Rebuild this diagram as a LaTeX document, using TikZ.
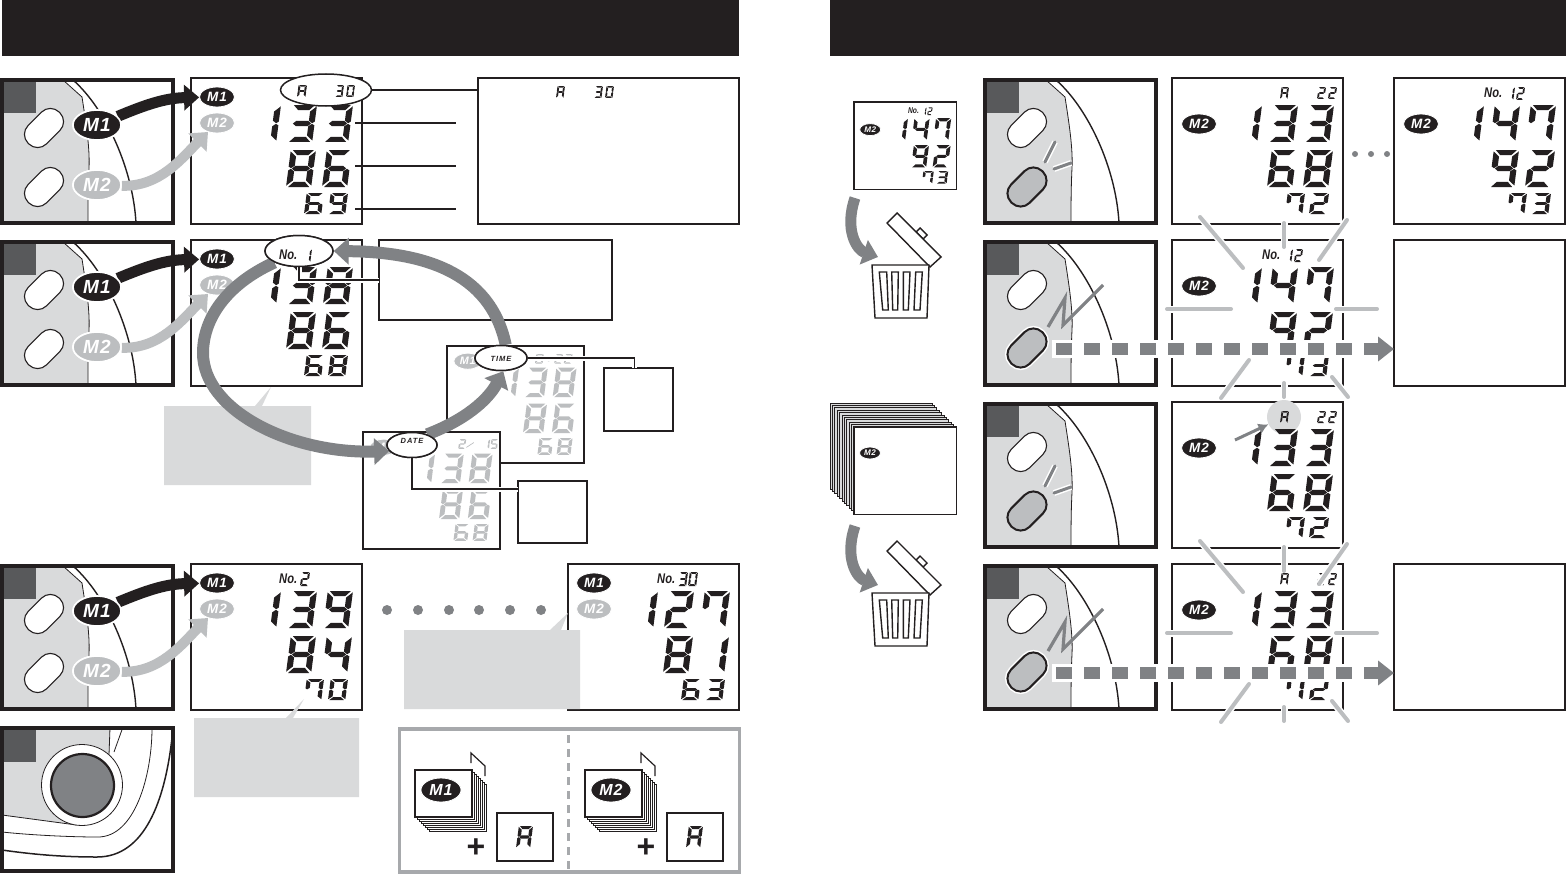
\documentclass[tikz,border=0pt]{standalone}
\usepackage{fontspec}
\usetikzlibrary{arrows.meta,shapes.geometric}
\newfontfamily\labelfont{Liberation Sans}
\newfontfamily\badgefont[LetterSpace=6]{Liberation Sans}
\newfontfamily\spacedfont[LetterSpace=12]{Liberation Sans}
\definecolor{inkblack}{HTML}{231F20}
\definecolor{squaregray}{HTML}{58595B}
\definecolor{arrowgray}{HTML}{808285}
\definecolor{fadedgray}{HTML}{BCBEC0}
\definecolor{bodygray}{HTML}{D9DADB}
\definecolor{framegray}{HTML}{A7A9AC}
\tikzset{
  lcdframe/.style={draw=inkblack,fill=white,line width=1.5,minimum width=171,minimum height=146,anchor=north west,inner sep=0,outer sep=0},
  lcdarea/.style n args={3}{shift={(#1,#2)},scale=#3,transform shape},
  notebox/.style={draw=inkblack,fill=white,line width=1.5,anchor=north west,inner sep=0,outer sep=0},
  panelframe/.style={draw=inkblack,line width=4,minimum width=171,minimum height=143,anchor=north west,inner sep=0,outer sep=0},
  badgedark/.style={ellipse,fill=inkblack,draw=white,line width=.8,minimum width=35,minimum height=20,inner sep=0,text=white,font=\badgefont\bfseries\itshape\fontsize{13.5}{13.5}\selectfont},
  badgegray/.style={badgedark,fill=fadedgray},
  handdark/.style={badgedark,line width=1.6,minimum width=48,minimum height=30,font=\badgefont\bfseries\itshape\fontsize{19}{19}\selectfont},
  handgray/.style={handdark,fill=fadedgray},
  carddark/.style={badgedark,minimum width=40,minimum height=24,font=\badgefont\bfseries\itshape\fontsize{16}{16}\selectfont},
  btnshape/.style={rectangle,rounded corners=12.5,minimum width=44,minimum height=26,rotate=45,draw=inkblack,inner sep=0},
  btnidle/.style={btnshape,fill=white,line width=1.1},
  btnpress/.style={btnshape,fill=fadedgray,line width=2},
  btnhold/.style={btnpress,preaction={draw=white,line width=5}},
  oval/.style={ellipse,draw=inkblack,fill=white,line width=1.5,inner sep=0},
  nolabel/.style={inner sep=0,anchor=west,xscale=.8,text=inkblack,font=\labelfont\bfseries\itshape\fontsize{14}{14}\selectfont},
  ovaltext/.style={inner sep=0,text=inkblack,font=\spacedfont\bfseries\itshape\fontsize{7.5}{7.5}\selectfont},
  leader/.style={draw=inkblack,line width=1.3},
  haloleader/.style={leader,preaction={draw=white,line width=5}},
  blackarrow/.style={draw=inkblack,line width=11,-{Triangle[length=15,width=25]}},
  palearrow/.style={draw=fadedgray,line width=10,-{Triangle[length=15,width=25]}},
  looparrow/.style={draw=arrowgray,line width=12,-{Triangle[length=15,width=26]}},
  dropdown/.style={draw=arrowgray,line width=11,-{Triangle[length=15,width=25]}},
  rayline/.style={draw=fadedgray,line width=4,line cap=round,preaction={draw=white,line width=7,line cap=butt}},
  pressmark/.style={draw=arrowgray,line width=3,line cap=round,preaction={draw=white,line width=6}},
  calloutfill/.style={fill=bodygray},
  trashline/.style={draw=inkblack,line width=1.4,line join=miter},
}
\expandafter\def\csname dig0\endcsname{a,b,c,d,e,f}
\expandafter\def\csname dig1\endcsname{b,c}
\expandafter\def\csname dig2\endcsname{a,b,g,e,d}
\expandafter\def\csname dig3\endcsname{a,b,g,c,d}
\expandafter\def\csname dig4\endcsname{f,g,b,c}
\expandafter\def\csname dig5\endcsname{a,f,g,c,d}
\expandafter\def\csname dig6\endcsname{a,f,g,e,c,d}
\expandafter\def\csname dig7\endcsname{a,f,b,c}
\expandafter\def\csname dig8\endcsname{a,b,c,d,e,f,g}
\expandafter\def\csname dig9\endcsname{a,b,c,d,f,g}
\expandafter\def\csname digA\endcsname{a,b,c,e,f,g}
\expandafter\def\csname dig/\endcsname{s}
\expandafter\def\csname dig:\endcsname{k}
\expandafter\def\csname dig-\endcsname{}
\expandafter\def\csname lcdsega\endcsname{\fill (8,0)--(92,0)--(72,18)--(28,18)--cycle;}
\expandafter\def\csname lcdsegf\endcsname{\fill (0,5)--(24,23)--(24,55)--(10,64)--(0,58)--cycle;}
\expandafter\def\csname lcdsegb\endcsname{\fill (100,5)--(100,58)--(90,64)--(76,55)--(76,23)--cycle;}
\expandafter\def\csname lcdsegg\endcsname{\fill (14,65)--(26,56)--(74,56)--(86,65)--(74,74)--(26,74)--cycle;}
\expandafter\def\csname lcdsege\endcsname{\fill (0,72)--(10,66)--(24,75)--(24,107)--(0,125)--cycle;}
\expandafter\def\csname lcdsegc\endcsname{\fill (100,72)--(90,66)--(76,75)--(76,107)--(100,125)--cycle;}
\expandafter\def\csname lcdsegd\endcsname{\fill (8,130)--(28,112)--(72,112)--(92,130)--cycle;}
\expandafter\def\csname lcdsegs\endcsname{\fill (0,105)--(100,40)--(100,52)--(0,117)--cycle;}
\expandafter\def\csname lcdsegk\endcsname{\fill (40,30)--(60,30)--(60,50)--(40,50)--cycle;\fill (40,80)--(60,80)--(60,100)--(40,100)--cycle;}
\newcommand{\lcdchar}[5]{%
  \begin{scope}[shift={(#2+.13*#5,#3)},xslant=.13,xscale=(#4-.13*#5)/100,yscale=#5/130]
    \edef\seglist{\csname dig#1\endcsname}
    \foreach \s in \seglist {\csname lcdseg\s\endcsname}
  \end{scope}}
\newcommand{\lcdrow}[6]{%
  \foreach \c [count=\i from 0] in {#6} {\lcdchar{\c}{#1+\i*#3}{#2}{#4}{#5}}}
\newcommand{\lcdbody}[4]{%
  \begin{scope}[color=#1]
    \lcdrow{60}{27}{36}{30}{37}{#2}
    \lcdrow{95}{72}{36}{30}{37}{#3}
    \lcdrow{113}{115}{24}{20}{21}{#4}
  \end{scope}}
\newcommand{\devicepanel}[3]{%
  \begin{scope}[shift={(#2,#3)}]
    \path[fill=bodygray,draw=inkblack,line width=.8] (2,2) -- (63,2) -- (82,19) .. controls (86,45) and (90,70) .. (89,90) .. controls (88,110) and (88,130) .. (88,145) -- (2,145) -- cycle;
    \draw[inkblack,line width=1.4] (73,2) .. controls (105,30) and (133,90) .. (136,145);
    \fill[squaregray] (3,3) rectangle (36,35);
    \node[panelframe] (#1) at (2,2) {};
  \end{scope}}
\newcommand{\sendrow}[2]{%
  \devicepanel{#1dev}{0}{#2}
  \begin{scope}[shift={(0,#2)}]
    \node[btnidle] (#1btna) at (44,50) {};
    \node[btnidle] (#1btnb) at (44,109) {};
    \node[handdark] (#1handa) at (97,47) {M1};
    \node[handgray] (#1handb) at (97,107) {M2};
    \draw[blackarrow] (#1handa) .. controls (145,27) and (165,20) .. (#1M1);
    \draw[palearrow] (#1handb) .. controls (160,109) and (182,80) .. (#1M2);
    \node[handdark] at (97,47) {M1};
    \node[handgray] at (97,107) {M2};
  \end{scope}}
\newcommand{\lcdleft}[8]{%
  \begin{scope}[lcdarea={#2}{#3}{#4}]
    \node[lcdframe] (#1) at (0,0) {};
    \lcdbody{#5}{#6}{#7}{#8}
    \node[badgedark] (#1M1) at (26,19) {M1};
    \node[badgegray] (#1M2) at (26,45) {M2};
  \end{scope}}
\newcommand{\lcdright}[8]{%
  \begin{scope}[lcdarea={#2}{#3}{#4}]
    \node[lcdframe] (#1) at (0,0) {};
    \lcdbody{#5}{#6}{#7}{#8}
    \node[badgedark] (#1M2) at (27,46) {M2};
  \end{scope}}
\newcommand{\shortpress}[2]{%
  \devicepanel{#1dev}{983}{#2}
  \begin{scope}[shift={(983,#2)}]
    \node[btnidle] (#1btna) at (44,50) {};
    \node[btnpress] (#1btnb) at (44,109) {};
    \draw[pressmark] (72,64) -- (62,84);
    \draw[pressmark] (88,85) -- (71,91);
  \end{scope}}
\newcommand{\longpress}[2]{%
  \devicepanel{#1dev}{983}{#2}
  \begin{scope}[shift={(983,#2)}]
    \node[btnidle] (#1btna) at (44,50) {};
    \node[btnhold] (#1btnb) at (44,108) {};
    \draw[draw=arrowgray,line width=3.2,line join=miter,miter limit=6] (65,87) -- (82,58) -- (80,85) -- (120,45);
  \end{scope}}
\newcommand{\flashrays}[1]{%
  \foreach \xa/\ya/\xb/\yb in {1200/217/1243/268,1284/223/1284/247,1347/220/1319/260,1167/309/1231/309,1336/309/1377/309,1249/360/1221/398,1284/383/1284/397,1332/377/1348/397}
    {\draw[rayline] (\xa,#1+\ya) -- (\xb,#1+\yb);}}
\newcommand{\flashbar}[2]{%
  \coordinate (#1flash) at (1056,#2);
  \draw[white,line width=18] (1052,#2) -- (1392,#2);
  \draw[draw=arrowgray,line width=12,dash pattern=on 16 off 12,-{Triangle[length=16,width=24]}] (#1flash) -- (#1flash -| #1box.west);}
\newcommand{\trashcan}[3]{%
  \begin{scope}[shift={(#2,#3)}]
    \coordinate (#1from) at (-17,-67);
    \coordinate (#1to) at (6,-8);
    \draw[dropdown] (#1from) .. controls (-28,-35) and (-15,-15) .. (#1to);
    \draw[trashline,fill=white] (44,-33) -- (48,-37) -- (55,-30) -- (51,-26) -- cycle;
    \draw[trashline,fill=white] (25,-52) -- (69,-8) -- (58,2) -- (15,-42) -- cycle;
    \draw[trashline,fill=white] (0,0) -- (57,0) -- (55,53) -- (3,53) -- cycle;
    \foreach \ta/\tb/\ba/\bb in {7.3/14.7/10.7/16.3,19.7/26.3/20.7/25.7,31.3/38/31.3/36.3,43.7/50.3/42/48}
      {\draw[trashline] (\ta,7) -- (\tb,7) -- (\bb,45) -- (\ba,45) -- cycle;}
  \end{scope}}
\newcommand{\memcard}[3]{%
  \begin{scope}[shift={(#2,770)}]
    \draw[inkblack,line width=1.2] (56,-7) -- (56,-17) -- (70,-4) -- (70,6);
    \foreach \i in {7,...,1} {\draw[draw=inkblack,fill=white,line width=.7] (\i*2,\i*2) rectangle +(57,47);}
    \draw[draw=inkblack,fill=white,line width=1.2] (0,0) rectangle (57,47);
    \node[carddark] (#1badge) at (26,20) {#3};
    \node[inner sep=0,text=inkblack,font=\labelfont\bfseries\fontsize{32}{32}\selectfont] (#1plus) at (61,78) {+};
    \node[notebox,minimum width=56,minimum height=48] (#1box) at (82,43) {};
    \begin{scope}[color=inkblack]
      \lcdrow{101}{56}{0}{17}{22}{A}
    \end{scope}
  \end{scope}}
\begin{document}
\begin{tikzpicture}[x=1pt,y=-1pt]
\useasboundingbox (0,0) rectangle (1568,875);
\fill[inkblack] (2,0) rectangle (739,56);
\fill[inkblack] (830,0) rectangle (1566,56);

\lcdleft{aa}{191}{78}{1}{inkblack}{1,3,3}{8,6}{6,9}
\sendrow{aa}{78}
\node[notebox,minimum width=261,minimum height=146] (infobox) at (478,78) {};
\begin{scope}[color=inkblack]
\lcdrow{556}{86}{0}{9}{12}{A}
\lcdrow{594}{86}{11}{9}{12}{3,0}
\end{scope}
\node[oval,minimum width=91,minimum height=32] (topoval) at (326,90) {};
\begin{scope}[color=inkblack]
\lcdrow{297}{85}{0}{10}{12}{A}
\lcdrow{335}{85}{11}{9}{12}{3,0}
\end{scope}
\draw[leader] (topoval.east) -- (topoval.east -| infobox.west);
\foreach \n/\y in {sys/123,dia/166,pul/209}
  {\coordinate (\n from) at (355,\y); \coordinate (\n to) at (456,\y); \draw[leader] (\n from) -- (\n to);}

\lcdleft{bb}{191}{240}{1}{inkblack}{1,3,8}{8,6}{6,8}
\sendrow{bb}{240}
\node[notebox,minimum width=233,minimum height=80] (notebox) at (379,240) {};
\node[notebox,minimum width=69,minimum height=63] (timebox) at (604,368) {};
\node[notebox,minimum width=69,minimum height=62] (datebox) at (518,481) {};
\fill[calloutfill] (164,406) -- (255,406) -- (271,387) -- (262,406) -- (311,406) -- (311,485) -- (164,485) -- cycle;
\begin{scope}[lcdarea={447}{346}{.8}]
\node[lcdframe] (timelcd) at (0,0) {};
\lcdbody{fadedgray}{1,3,8}{8,6}{6,8}
\node[badgegray] (timeM) at (26,19) {M1};
\begin{scope}[color=fadedgray]
\lcdrow{110}{10}{12}{11}{12}{8,:,2,2}
\end{scope}
\end{scope}
\begin{scope}[lcdarea={363}{432}{.8}]
\node[lcdframe] (datelcd) at (0,0) {};
\lcdbody{fadedgray}{1,3,8}{8,6}{6,8}
\node[badgegray] (dateM) at (26,19) {M1};
\begin{scope}[color=fadedgray]
\lcdrow{119}{9}{10}{10}{12}{2,/,-,1,5}
\end{scope}
\end{scope}
\node[oval,minimum width=68,minimum height=31] (nooval) at (299,251) {};
\node[oval,minimum width=50,minimum height=25] (dateoval) at (412,445) {};
\node[oval,minimum width=52,minimum height=25] (timeoval) at (501,358) {};
\draw[looparrow] (timeoval.70) .. controls (490,270) and (420,252) .. (nooval.east);
\draw[looparrow] (nooval.205) .. controls (225,285) and (203,320) .. (203,353) .. controls (203,410) and (290,454) .. (dateoval.195);
\draw[looparrow] (dateoval.35) .. controls (465,420) and (488,400) .. (timeoval.280);
\draw[haloleader] (nooval.south) |- (notebox.west);
\draw[haloleader] (timeoval.east) -| ([xshift=-4]timebox.north);
\draw[haloleader] (dateoval.south) |- ([yshift=23]datebox.west);
\node[oval,minimum width=68,minimum height=31] at (299,251) {};
\node[oval,minimum width=50,minimum height=25] at (412,445) {};
\node[oval,minimum width=52,minimum height=25] at (501,358) {};
\node[nolabel] (nofirst) at (279,255) {No.};
\begin{scope}[color=inkblack]
\lcdrow{303}{249}{10}{9}{13}{1}
\end{scope}
\node[ovaltext] (datetext) at (412,441) {DATE};
\node[ovaltext] (timetext) at (501,359) {TIME};

\lcdleft{cc}{191}{564}{1}{inkblack}{1,3,9}{8,4}{7,0}
\sendrow{cc}{564}
\lcdleft{dd}{568}{564}{1}{inkblack}{1,2,7}{8,1}{6,3}
\node[nolabel] (nosecond) at (279,579) {No.};
\node[nolabel] (nothird) at (657,579) {No.};
\begin{scope}[color=inkblack]
\lcdrow{300}{572}{0}{10}{14}{2}
\lcdrow{678}{572}{10}{10}{14}{3,0}
\end{scope}
\foreach \x in {387,418,449,479,510,541} {\fill[arrowgray] (\x,610) circle (5);}
\fill[calloutfill] (404,630) -- (550,630) -- (568,613) -- (561,630) -- (580,630) -- (580,709) -- (404,709) -- cycle;
\fill[calloutfill] (194,718) -- (286,718) -- (304,699) -- (293,718) -- (359,718) -- (359,797) -- (194,797) -- cycle;

\path[fill=bodygray] (2,728) -- (110,728) -- (109,755) -- (60,800) -- (76.6,825) -- (2,815) -- cycle;
\draw[inkblack,line width=.8] (2,815) -- (76.6,825);
\draw[inkblack,line width=.8] (110,728) -- (109,755);
\draw[inkblack,line width=.8] (122.6,728) -- (114,752);
\draw[inkblack,line width=.8] (152,728) .. controls (152,775) and (135,838) .. (97,837) .. controls (70,837) and (30,835) .. (2,832);
\draw[inkblack,line width=1.5] (172,738) .. controls (165,800) and (145,857) .. (97,857) .. controls (60,857) and (30,854) .. (2,850);
\fill[squaregray] (3,729) rectangle (36,762);
\node[circle,draw=inkblack,fill=white,line width=.8,minimum size=81,inner sep=0] (cuffring) at (82,785) {};
\node[circle,draw=inkblack,fill=arrowgray,line width=2.2,minimum size=63,inner sep=0] (cuffbtn) at (82.5,785.5) {};
\node[panelframe] (ddev) at (2,728) {};

\draw[draw=framegray,line width=3.5] (399.5,729) rectangle (739.5,872);
\draw[draw=framegray,line width=3.5,dash pattern=on 8 off 6] (568.5,735) -- (568.5,870);
\memcard{mone}{415}{M1}
\memcard{mtwo}{585}{M2}

\begin{scope}[lcdarea={854}{102}{.6}]
\node[lcdframe] (minilcd) at (0,0) {};
\lcdbody{inkblack}{1,4,7}{9,2}{7,3}
\node[badgedark] (miniM2) at (27,46) {M2};
\node[nolabel] (minino) at (90,15) {No.};
\begin{scope}[color=inkblack]
\lcdrow{112}{9}{10}{9}{13}{1,2}
\end{scope}
\end{scope}
\trashcan{binone}{872}{265}
\foreach \i in {10,...,1} {\draw[draw=inkblack,fill=bodygray,line width=.7] (854-2.4*\i,427-2.4*\i) rectangle +(102,86);}
\node[lcdframe,scale=.6] (stackfront) at (854,427) {};
\node[badgedark,scale=.6] (stackM2) at (870,453) {M2};
\trashcan{bintwo}{872}{593}

\shortpress{ra}{78}
\longpress{rb}{240}
\shortpress{rc}{402}
\longpress{rd}{564}

\lcdright{la}{1172}{78}{1}{inkblack}{1,3,3}{6,8}{7,2}
\lcdright{lb}{1172}{240}{1}{inkblack}{1,4,7}{9,2}{7,3}
\begin{scope}[lcdarea={1172}{402}{1}]
\node[lcdframe] (lc) at (0,0) {};
\node[circle,fill=bodygray,minimum size=34,inner sep=0] (lchigh) at (112,15) {};
\lcdbody{inkblack}{1,3,3}{6,8}{7,2}
\node[badgedark] (lcM2) at (27,46) {M2};
\end{scope}
\lcdright{ld}{1172}{564}{1}{inkblack}{1,3,3}{6,8}{7,2}
\lcdright{ea}{1394}{78}{1}{inkblack}{1,4,7}{9,2}{7,3}
\node[lcdframe] (rbbox) at (1394,240) {};
\node[lcdframe] (rdbox) at (1394,564) {};
\begin{scope}[color=inkblack]
\foreach \y in {78,402,564} {\lcdrow{1280}{\y+9}{0}{9}{12}{A}\lcdrow{1317}{\y+9}{11}{9}{12}{2,2}}
\end{scope}
\node[nolabel] (nolb) at (1262,255) {No.};
\node[nolabel] (noea) at (1484,93) {No.};
\begin{scope}[color=inkblack]
\lcdrow{1284}{249}{10}{9}{13}{1,2}
\lcdrow{1506}{87}{10}{9}{13}{1,2}
\end{scope}
\foreach \x in {1355,1371,1387} {\fill[arrowgray] (\x,154) circle (3);}
\flashrays{0}
\flashrays{324}
\flashbar{rb}{349}
\flashbar{rd}{673}
\coordinate (lcfrom) at (1235,440);
\draw[draw=arrowgray,line width=3,-{Latex[length=10,width=11]}] (lcfrom) -- (lchigh);
\end{tikzpicture}
\end{document}
